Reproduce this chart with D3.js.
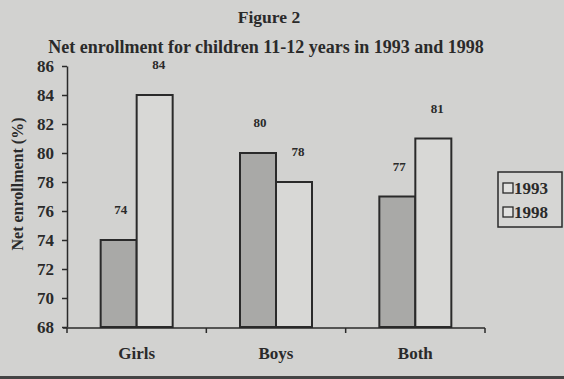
<!DOCTYPE html>
<html><head><meta charset="utf-8">
<script src="https://cdn.jsdelivr.net/npm/d3@7"></script>
<style>body{margin:0;background:#d2d2d0;} svg{display:block;}</style>
</head><body>
<script>
const categories = ["Girls", "Boys", "Both"];
const years = ["1993", "1998"];
const values1993 = [74, 80, 77];
const values1998 = [84, 78, 81];
const yTicks = [68, 70, 72, 74, 76, 78, 80, 82, 84, 86];

const W = 564, H = 379;
const svg = d3.select("body").append("svg").attr("width", W).attr("height", H);
svg.append("rect").attr("width", W).attr("height", H).attr("fill", "#d2d2d0");
svg.append("rect").attr("x", 0).attr("y", H - 3).attr("width", W).attr("height", 3).attr("fill", "#444");

const font = "'Liberation Serif', 'DejaVu Serif', serif";
const ink = "#2a2a2a";

const x = d3.scaleBand().domain(categories).range([67, 485]);
const y = d3.scaleLinear().domain([68, 86]).range([327, 66]);
const barW = 36;

const data = categories.map((c, i) => ({c, vals: [values1993[i], values1998[i]]}));
const fills = ["#a9a9a7", "#d8d8d6"];

const g = svg.append("g");
data.forEach(d => {
  const cx = x(d.c) + x.bandwidth() / 2;
  d.vals.forEach((v, j) => {
    const x0 = cx - barW + j * barW;
    g.append("rect").attr("x", x0).attr("y", y(v)).attr("width", barW).attr("height", y(68) - y(v))
      .attr("fill", fills[j]).attr("stroke", ink).attr("stroke-width", 2);
    g.append("text").attr("x", x0 + barW / 2 + (j === 0 ? 2 : 4)).attr("y", y(v) - 26)
      .attr("text-anchor", "middle").attr("font-family", font).attr("font-weight", "bold")
      .attr("font-size", 13).attr("fill", ink).text(v);
  });
});

// y axis
const yAxis = d3.axisLeft(y).tickValues(yTicks).tickSize(5).tickSizeOuter(0).tickPadding(8);
const ya = svg.append("g").attr("transform", "translate(67,0)").call(yAxis);
ya.selectAll("path,line").attr("stroke", ink).attr("stroke-width", 1.5);
ya.selectAll("text").attr("font-family", font).attr("font-weight", "bold").attr("font-size", 17).attr("fill", ink);

// x axis
const xa = svg.append("g").attr("transform", "translate(0,328)");
xa.append("line").attr("x1", 63).attr("x2", 485).attr("y1", 0).attr("y2", 0).attr("stroke", ink).attr("stroke-width", 1.5);
const bounds = [67].concat(categories.map(c => x(c) + x.bandwidth()));
xa.selectAll("line.t").data(bounds).enter().append("line").attr("class", "t")
  .attr("x1", d => d).attr("x2", d => d).attr("y1", 0).attr("y2", 5).attr("stroke", ink).attr("stroke-width", 1.5);
xa.selectAll("text").data(categories).enter().append("text")
  .attr("x", d => x(d) + x.bandwidth() / 2).attr("y", 31).attr("text-anchor", "middle")
  .attr("font-family", font).attr("font-weight", "bold").attr("font-size", 17).attr("fill", ink).text(d => d);

// titles
svg.append("text").attr("x", 269).attr("y", 23).attr("text-anchor", "middle").attr("font-family", font)
  .attr("font-weight", "bold").attr("font-size", 17.5).attr("fill", ink).text("Figure 2");
svg.append("text").attr("x", 266).attr("y", 53).attr("text-anchor", "middle").attr("font-family", font)
  .attr("font-weight", "bold").attr("font-size", 18).attr("fill", ink).text("Net enrollment for children 11-12 years in 1993 and 1998");

// y label
svg.append("text").attr("transform", "translate(23,184) rotate(-90)").attr("text-anchor", "middle")
  .attr("font-family", font).attr("font-weight", "bold").attr("font-size", 16).attr("fill", ink).text("Net enrollment (%)");

// legend
const lg = svg.append("g");
lg.append("rect").attr("x", 498).attr("y", 172).attr("width", 64).attr("height", 55)
  .attr("fill", "#d6d6d4").attr("stroke", ink).attr("stroke-width", 1.5);
years.forEach((yr, i) => {
  const cy = 188 + i * 24;
  lg.append("rect").attr("x", 503).attr("y", cy - 5).attr("width", 10).attr("height", 10)
    .attr("fill", "#e2e2e0").attr("stroke", ink).attr("stroke-width", 1.3);
  lg.append("text").attr("x", 514).attr("y", cy + 6).attr("font-family", font).attr("font-weight", "bold")
    .attr("font-size", 17).attr("fill", ink).text(yr);
});
</script>
</body></html>
